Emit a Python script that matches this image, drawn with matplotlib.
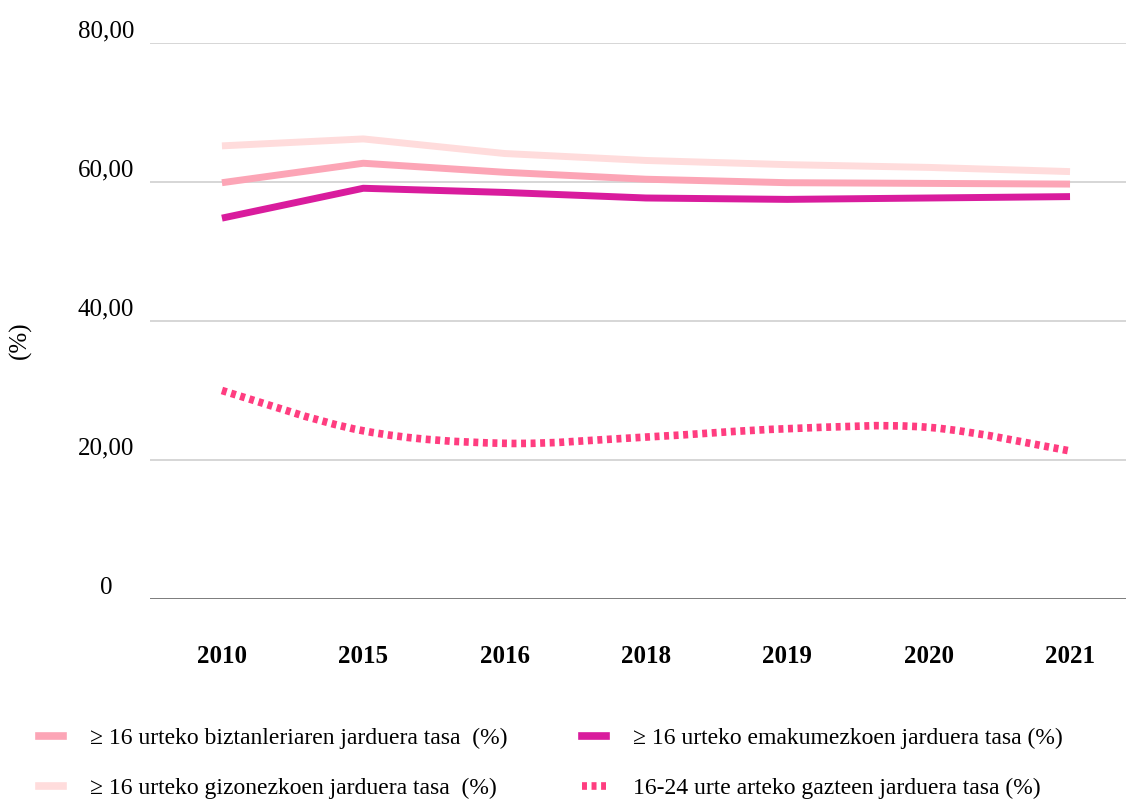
import numpy as np
import matplotlib.pyplot as plt
from matplotlib.path import Path
from matplotlib.patches import PathPatch
from matplotlib.lines import Line2D

plt.rcParams['font.family'] = ['Liberation Serif', 'DejaVu Serif']

years = ['2010', '2015', '2016', '2018', '2019', '2020', '2021']
biztanleria = [59.9, 62.7, 61.4, 60.4, 59.9, 59.8, 59.7]
gizonezkoak = [65.2, 66.2, 64.1, 63.1, 62.5, 62.1, 61.5]
emakumezkoak = [54.8, 59.1, 58.5, 57.7, 57.5, 57.7, 57.9]
gazteak = [30.0, 24.2, 22.4, 23.3, 24.5, 24.7, 21.3]
yticks = [0, 20, 40, 60, 80]
ytick_labels = ['0', '20,00', '40,00', '60,00', '80,00']

c_bizt = '#fca5b6'
c_giz = '#ffdcdc'
c_ema = '#d91c9d'
c_gaz = '#ff3d80'

fig = plt.figure(figsize=(11.26, 8.01), dpi=100)
ax = fig.add_axes([0.1332, 0.2522, 0.8668, 0.6941])

x = np.arange(len(years))
ax.plot(x, gizonezkoak, color=c_giz, lw=5, solid_capstyle='butt', zorder=3)
ax.plot(x, biztanleria, color=c_bizt, lw=5, solid_capstyle='butt', zorder=4)
ax.plot(x, emakumezkoak, color=c_ema, lw=5, solid_capstyle='butt', zorder=5)

# smooth dotted curve through the youth values (bezier path)
pts = np.column_stack([x, gazteak]).astype(float)
ext = np.vstack([pts[0], pts, pts[-1]])
verts = [pts[0]]
codes = [Path.MOVETO]
for i in range(len(pts) - 1):
    p0, p1, p2, p3 = ext[i], ext[i + 1], ext[i + 2], ext[i + 3]
    verts += [p1 + (p2 - p0) / 6, p2 - (p3 - p1) / 6, p2]
    codes += [Path.CURVE4] * 3
dash = (0, (0.65, 0.6))
ax.add_patch(PathPatch(Path(verts, codes), fill=False, edgecolor=c_gaz, lw=5.5,
                       linestyle=dash, capstyle='butt', zorder=6))

ax.set_xlim(-0.509, 6.396)
ax.set_ylim(0, 80)
for v in yticks[1:]:
    ax.axhline(v, color='#cfcfcf', lw=1.2, zorder=1)
ax.axhline(0, color='#707070', lw=2, zorder=2)
for s in ax.spines.values():
    s.set_visible(False)
ax.set_yticks([])
ax.set_xticks(x)
ax.set_xticklabels(years, fontsize=18, fontweight='bold')
ax.tick_params(axis='x', length=0, pad=33)
for v, lab in zip(yticks, ytick_labels):
    ax.text(-0.82, v + 1.6, lab, fontsize=18, ha='center', va='center',
            transform=ax.transData, clip_on=False)
fig.text(0.018, 0.575, '(%)', rotation=90, fontsize=18, ha='center', va='center')

handles = [
    Line2D([], [], color=c_bizt, lw=5.5),
    Line2D([], [], color=c_giz, lw=5.5),
    Line2D([], [], color=c_ema, lw=5.5),
    Line2D([], [], color=c_gaz, lw=5.5, linestyle=dash),
]
labels = [
    '≥ 16 urteko biztanleriaren jarduera tasa  (%)',
    '≥ 16 urteko gizonezkoen jarduera tasa  (%)',
    '≥ 16 urteko emakumezkoen jarduera tasa (%)',
    '16-24 urte arteko gazteen jarduera tasa (%)',
]
fig.legend(handles, labels, ncol=2, loc='lower left', bbox_to_anchor=(0.016, -0.024),
           frameon=False, fontsize=17, handlelength=1.0, handletextpad=1.15,
           columnspacing=3.15, labelspacing=1.2)

fig.savefig('out.png', dpi=100)
